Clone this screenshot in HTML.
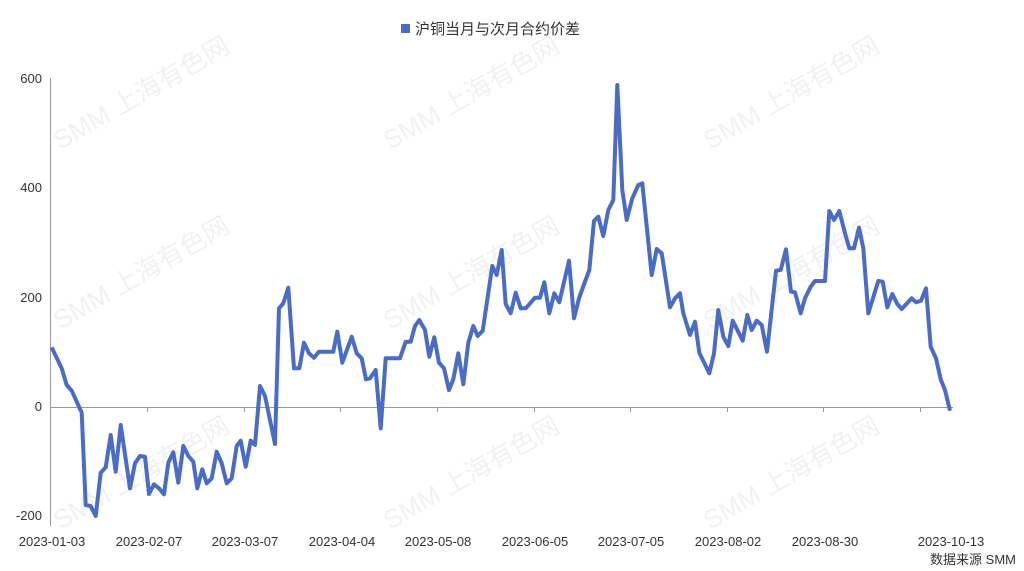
<!DOCTYPE html>
<html><head><meta charset="utf-8"><style>
body{margin:0;background:#fff;}
svg{display:block;font-family:"Liberation Sans","Noto Sans CJK SC",sans-serif;}
</style></head><body>
<svg width="1024" height="571" viewBox="0 0 1024 571" xmlns="http://www.w3.org/2000/svg">
<rect width="1024" height="571" fill="#fff"/>
<g fill="#f1f1f1" font-size="26">
<text transform="translate(60,150) rotate(-30)">SMM 上海有色网</text>
<text transform="translate(390,150) rotate(-30)">SMM 上海有色网</text>
<text transform="translate(710,150) rotate(-30)">SMM 上海有色网</text>
<text transform="translate(60,330) rotate(-30)">SMM 上海有色网</text>
<text transform="translate(390,330) rotate(-30)">SMM 上海有色网</text>
<text transform="translate(710,330) rotate(-30)">SMM 上海有色网</text>
<text transform="translate(60,530) rotate(-30)">SMM 上海有色网</text>
<text transform="translate(390,530) rotate(-30)">SMM 上海有色网</text>
<text transform="translate(710,530) rotate(-30)">SMM 上海有色网</text>
</g>
<rect x="401" y="24" width="9" height="9" fill="#4a6bc6"/>
<text x="415" y="34" font-size="15" fill="#333">沪铜当月与次月合约价差</text>
<g font-size="13" fill="#333" text-anchor="end">
<text x="42" y="83">600</text>
<text x="42" y="192">400</text>
<text x="42" y="302">200</text>
<text x="42" y="411">0</text>
<text x="42" y="520">-200</text>
</g>
<line x1="50.5" y1="78" x2="50.5" y2="526" stroke="#999" stroke-width="1"/>
<line x1="50" y1="407.5" x2="953" y2="407.5" stroke="#999" stroke-width="1"/>
<g stroke="#999">
<line x1="147.5" y1="407" x2="147.5" y2="412"/><line x1="244.5" y1="407" x2="244.5" y2="412"/>
<line x1="340.5" y1="407" x2="340.5" y2="412"/><line x1="437.5" y1="407" x2="437.5" y2="412"/>
<line x1="534.5" y1="407" x2="534.5" y2="412"/><line x1="630.5" y1="407" x2="630.5" y2="412"/>
<line x1="727.5" y1="407" x2="727.5" y2="412"/><line x1="823.5" y1="407" x2="823.5" y2="412"/>
<line x1="920.5" y1="407" x2="920.5" y2="412"/>
</g>
<g font-size="13" fill="#333" text-anchor="middle">
<text x="52" y="546">2023-01-03</text>
<text x="149" y="546">2023-02-07</text>
<text x="245" y="546">2023-03-07</text>
<text x="342" y="546">2023-04-04</text>
<text x="438" y="546">2023-05-08</text>
<text x="535" y="546">2023-06-05</text>
<text x="631" y="546">2023-07-05</text>
<text x="728" y="546">2023-08-02</text>
<text x="825" y="546">2023-08-30</text>
<text x="951" y="546">2023-10-13</text>
</g>
<text x="1016" y="564" font-size="13" fill="#333" text-anchor="end">数据来源 SMM</text>
<polyline fill="none" stroke="#4a6bc6" stroke-width="4" stroke-linejoin="round" points="
51.7,347.3 61.7,368.3 66.7,385 71.7,390.7 81.7,412.7 85.7,505 90.7,506 95.7,516 100.7,472.7 105.7,467.3 110.7,435 115.7,471.7 120.7,425 130,488.3 135,463.3 140,456 145,456.7 149,494 154,484.3 159,488.3 164,494.3 168.3,462.7 173.3,452.3 178.3,482.7 183.3,446 188.3,456 193.3,461.7 197.3,488.3 202.3,469.3 206.7,483.3 211.7,478.3 216.7,451.7 221.7,463.3 226.7,483.3 231.7,478.3 236.7,446 240.7,440.7 245.7,466.7 250.7,440.7 255,445 260,386 265,396 275,444 279,308.3 283.3,303.3 288.3,287.7 294,368.3 299.3,368.3 304,342.7 309,353.3 314,357.7 319,351.7 333.3,351.7 337.3,331.7 342.3,362.7 351.7,336.7 356.7,353.3 361.7,358.3 366,379.3 370,378.3 375.7,370 380.7,428.3 385.7,358.3 400,358.3 405.7,341.7 410.7,341.7 415,326 419.3,320 425,330 429.3,356.7 434.3,337.3 439,362.7 444,368.3 449,390 453.3,379.3 458.3,353.3 463.3,384.3 468.3,342.7 473.3,326 477.7,336 482.7,330.7 492.3,266 496.7,275 501.7,250 505.7,304 510.7,313.3 515.7,292.7 520.7,308.3 525.7,308.3 535,297.7 540,297.7 544.3,282.3 549.3,313.3 554.3,293.3 559.3,302.3 569,260.7 574,318.3 579.3,297.3 589.3,270 594,221 598.3,216.7 603.3,236 608.3,210 613.3,200 617.3,85 622.3,190 626.7,220 632.3,198.3 638.3,185 642.3,183.3 651.7,275 656.7,249 661.7,253.3 670,307.3 675,298.3 680,293.3 683.3,313.3 690,335 695,321.7 699.3,352.7 709.3,373.3 714,353.3 718.3,310 723.3,336.7 728.3,346 732.7,320.7 742.7,340.7 747.3,315 751.7,330 756.7,320.7 761.7,325 767,351.7 776,270.7 780.7,270 786,249.3 791,291.7 795,292.3 800.7,313.3 805,298.3 810.7,286.7 815,281 825,281 829.3,211 834,220 839.3,211 845,233.3 849.3,248.3 854,248.3 859,227.7 863.3,248.3 868.3,313.3 878.3,281 882.7,281.7 887.3,307.3 892.3,294 897.3,304 901.7,309 911.7,298.3 916,302.3 921,300.7 926,288.3 930.7,346.7 936,358.3 940.7,379.3 945,390 950,410.7"/>
</svg>
</body></html>
